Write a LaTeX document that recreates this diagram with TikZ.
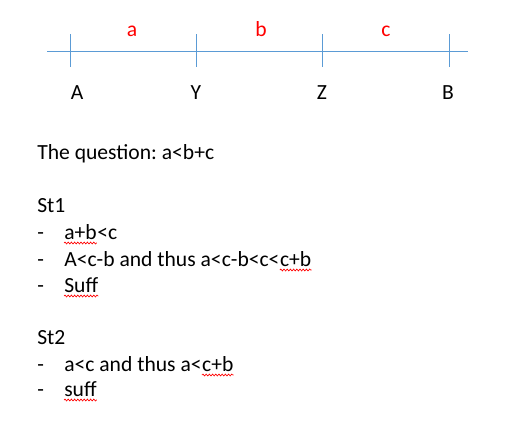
\documentclass[tikz,border=0pt]{standalone}
\usepackage{fontspec}
\setmainfont{Carlito}
\frenchspacing
\usetikzlibrary{decorations.pathmorphing,calc}
\definecolor{axisblue}{HTML}{5B9BD5}
\definecolor{lblred}{HTML}{FF0000}
\begin{document}
\begin{tikzpicture}[x=0.75pt,y=-0.75pt,
  axis/.style={draw=axisblue,line width=0.75pt},
  fnt/.style={font=\fontsize{16.2}{19}\selectfont},
  txt/.style={fnt,anchor=base west,inner sep=0pt},
  pt/.style={fnt,anchor=base,inner sep=0pt},
  seg/.style={fnt,anchor=base,inner sep=0pt,text=lblred},
  squig/.style={draw=red,line width=0.5pt,decorate,decoration={snake,amplitude=0.7pt,segment length=2.4pt}}]
\useasboundingbox (0,0) rectangle (527,422);
% axis
\coordinate (L) at (47,51);
\coordinate (R) at (468,51);
\draw[axis] (L) -- (R);
\foreach \n/\x in {tA/70,tY/196,tZ/322,tB/449}{
  \coordinate (\n1) at (\x,34);
  \coordinate (\n2) at (\x,67);
  \draw[axis] (\n1) -- (\n2);
}
\node[seg] (la) at (132,36) {a};
\node[seg] (lb) at (261,36) {b};
\node[seg] (lc) at (386,36) {c};
\node[pt] (pA) at (77,99) {A};
\node[pt] (pY) at (196,99) {Y};
\node[pt] (pZ) at (322,99) {Z};
\node[pt] (pB) at (448,99) {B};
% text
\node[txt] (q) at (37,159) {The question: a<b+c};
\node[txt] (s1) at (37,212) {St1};
\node[txt] (d1) at (37,239) {-};
\node[txt] (i1a) at (64,239) {a+b};
\node[txt] (i1b) at (i1a.base east) {<c};
\node[txt] (d2) at (37,266) {-};
\node[txt] (i2a) at (64,266) {A<c-b and thus a<c-b<c<};
\node[txt] (i2b) at (i2a.base east) {c+b};
\node[txt] (d3) at (37,292) {-};
\node[txt] (i3) at (64,292) {Suff};
\node[txt] (s2) at (37,344) {St2};
\node[txt] (d4) at (37,371) {-};
\node[txt] (i4a) at (64,371) {a<c and thus a<};
\node[txt] (i4b) at (i4a.base east) {c+b};
\node[txt] (d5) at (37,396) {-};
\node[txt] (i5) at (64,396) {suff};
% spell-check squiggles
\foreach \w in {i1a,i2b,i3,i4b,i5}{
  \draw[squig] ($(\w.base west)+(0,4)$) -- ($(\w.base east)+(0,4)$);
}
\end{tikzpicture}
\end{document}
